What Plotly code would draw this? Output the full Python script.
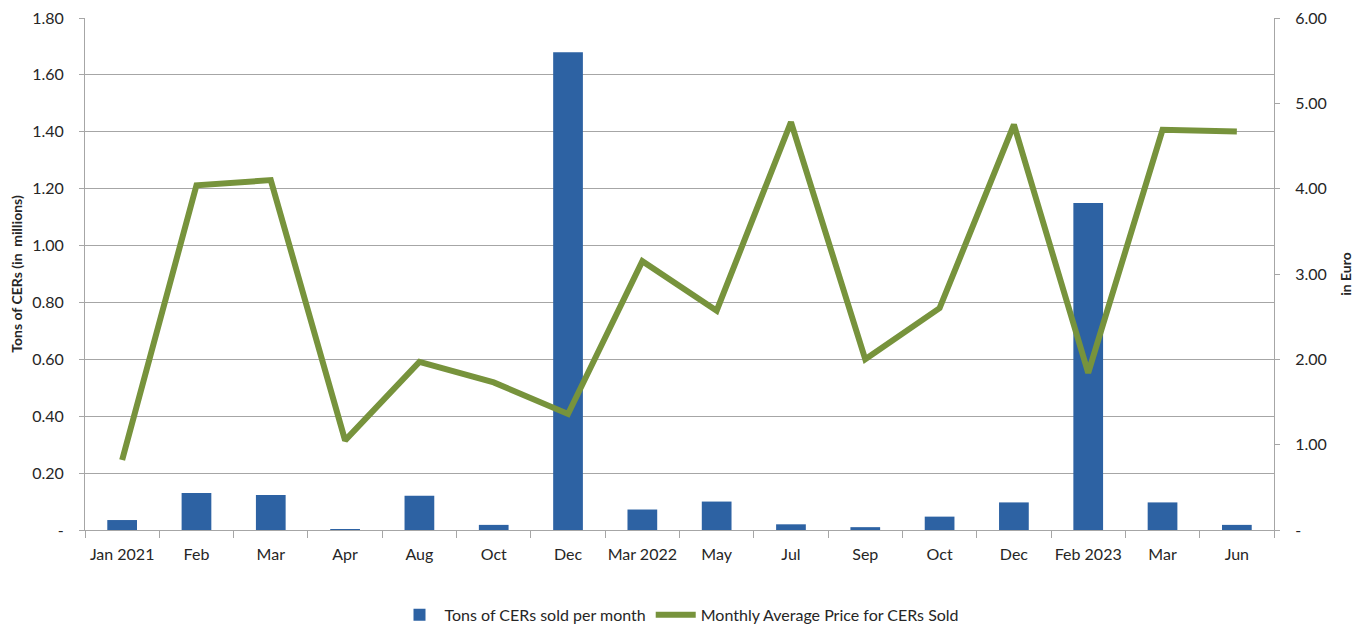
import plotly.graph_objects as go

months = ["Jan 2021", "Feb", "Mar", "Apr", "Aug", "Oct", "Dec", "Mar 2022",
          "May", "Jul", "Sep", "Oct", "Dec", "Feb 2023", "Mar", "Jun"]
tons_millions = [0.035, 0.13, 0.123, 0.002, 0.12, 0.018, 1.68, 0.072,
                 0.10, 0.02, 0.01, 0.047, 0.097, 1.15, 0.097, 0.018]
avg_price_eur = [0.82, 4.04, 4.10, 1.05, 1.97, 1.73, 1.36, 3.15,
                 2.57, 4.78, 2.00, 2.60, 4.75, 1.84, 4.69, 4.67]

left_ticks = [0, 0.2, 0.4, 0.6, 0.8, 1.0, 1.2, 1.4, 1.6, 1.8]
left_labels = ["-", "0.20", "0.40", "0.60", "0.80", "1.00", "1.20", "1.40", "1.60", "1.80"]
right_ticks = [0, 1, 2, 3, 4, 5, 6]
right_labels = ["-", "1.00", "2.00", "3.00", "4.00", "5.00", "6.00"]

x = list(range(len(months)))
FONT = "Lato, 'Open Sans', sans-serif"
GRID = "#A6A6A6"

fig = go.Figure()
fig.add_trace(go.Bar(
    x=x, y=tons_millions, name="Tons of CERs sold per month",
    marker=dict(color="#2D62A3", line=dict(width=0)), width=0.4,
    yaxis="y",
))
fig.add_trace(go.Scatter(
    x=x, y=avg_price_eur, name="Monthly Average Price for CERs Sold",
    mode="lines", line=dict(color="#77933C", width=6),
    yaxis="y2",
))

# page body has a default 8px margin, so the figure is sized to fit the window
fig.update_layout(
    width=1362, height=618,
    margin=dict(l=77, r=96, t=10, b=96),
    plot_bgcolor="white", paper_bgcolor="white",
    font=dict(family=FONT, size=16, color="#262626"),
    showlegend=True,
    legend=dict(orientation="h", x=0.5, xanchor="center",
                yref="container", y=0.018, yanchor="middle",
                font=dict(size=16), itemwidth=40, tracegroupgap=0),
    xaxis=dict(
        range=[-0.5, len(months) - 0.5],
        tickvals=x, ticktext=months, ticks="outside", ticklen=10,
        tickcolor="rgba(0,0,0,0)",
        showgrid=False, showline=True, linecolor=GRID, linewidth=1,
        zeroline=False, automargin=False,
        minor=dict(tickvals=[i - 0.5 for i in range(len(months) + 1)],
                   ticks="outside", ticklen=7, tickcolor=GRID, showgrid=False),
        tickfont=dict(size=16),
    ),
    yaxis=dict(
        range=[0, 1.8], tickvals=left_ticks, ticktext=left_labels,
        showgrid=True, gridcolor=GRID, gridwidth=1,
        showline=True, linecolor=GRID, linewidth=1,
        ticks="outside", ticklen=5, tickcolor=GRID, zeroline=False,
        ticklabelstandoff=12, automargin=False, ticklabeloverflow="allow",
        title=dict(text="<b>Tons of CERs (in  millions)</b>", font=dict(size=14), standoff=10),
    ),
    yaxis2=dict(
        range=[0, 6], tickvals=right_ticks, ticktext=right_labels,
        overlaying="y", side="right", showgrid=False,
        showline=True, linecolor=GRID, linewidth=1,
        ticks="outside", ticklen=5, tickcolor=GRID, zeroline=False,
        ticklabelstandoff=12, automargin=False, ticklabeloverflow="allow",
        title=dict(text="<b>in Euro</b>", font=dict(size=14), standoff=15),
    ),
)

fig.write_html("out.html")
